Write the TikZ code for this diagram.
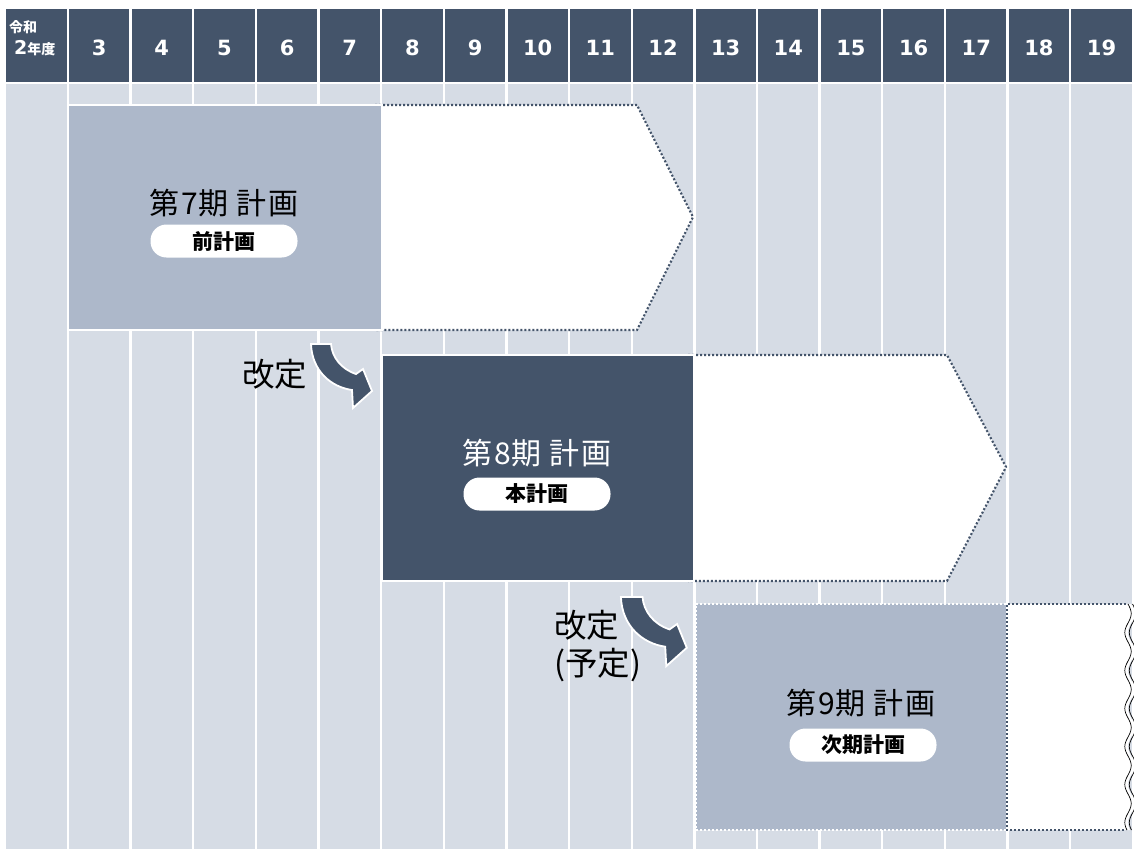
\documentclass[tikz,border=0pt]{standalone}
\usepackage{fontspec}
\setmainfont{DejaVu Sans}
\newfontfamily\jp{Noto Sans CJK JP}
\newfontfamily\jpt[LetterSpace=4]{Noto Sans CJK JP}
\definecolor{hdr}{HTML}{44546A}
\definecolor{bodyc}{HTML}{D6DCE5}
\definecolor{boxc}{HTML}{ADB8CA}
\begin{document}
\begin{tikzpicture}[x=1pt,y=-1pt,
  hdrnum/.style={text=white, font=\bfseries\fontsize{21}{21}\selectfont, inner sep=0pt},
  title/.style={font=\jpt\fontsize{30}{30}\selectfont, inner sep=0pt},
  pill/.style={fill=white, rounded corners=16pt, minimum width=147pt, minimum height=33pt, inner sep=0pt, font=\jp\bfseries\fontsize{21}{21}\selectfont},
  note/.style={font=\jp\fontsize{32.5}{38}\selectfont, inner sep=0pt, align=left, anchor=west},
  dotb/.style={draw=hdr, line width=2.1pt, dash pattern=on 2pt off 2pt},
  dotw/.style={draw=white, line width=2.1pt, dash pattern=on 2pt off 2pt},
  planbox/.style={draw=white, line width=2pt, anchor=north west, inner sep=0pt},
  curvarrow/.pic={\filldraw[fill=hdr, draw=white, line width=1.8pt, line join=miter]
     (-1,0) -- (19,0) .. controls (20,13) and (29,25) .. (44,30) -- (51,25) -- (60,47)
     -- (41,64) -- (40,46) .. controls (19,43) and (0,27) .. (-1,0) -- cycle;}
]
\useasboundingbox (0,0) rectangle (1134,849);
\fill[white] (0,0) rectangle (1134,849);
% header and body columns
\fill[hdr] (6,9) rectangle (66.7,82);
\fill[bodyc] (6,84) rectangle (66.7,849);
\node[text=white, inner sep=0pt, anchor=west, font=\jp\bfseries\fontsize{14}{14}\selectfont] (hy1) at (9,27) {令和};
\node[text=white, inner sep=0pt, anchor=base west] (hy2) at (14,54) {{\bfseries\fontsize{19}{19}\selectfont 2}{\jp\bfseries\fontsize{14}{14}\selectfont 年度}};
\foreach \k in {1,...,17}{
  \pgfmathsetmacro{\xl}{69+62.65*(\k-1)}
  \pgfmathtruncatemacro{\yr}{\k+2}
  \fill[hdr] (\xl,9) rectangle ++(60.3,73);
  \fill[bodyc] (\xl,84) rectangle ++(60.3,765);
  \node[hdrnum] (h\yr) at (\xl+30.15,47.5) {\yr};
}
% plan 7
\filldraw[fill=white, dotb] (375,105) -- (637,105) -- (693,217) -- (637,330) -- (375,330);
\node[planbox, fill=boxc, minimum width=314pt, minimum height=225pt] (p7) at (67,104) {};
\node[title] (t7) at (224,203) {第7期 計画};
\node[pill] (l7) at (224,241) {前計画};
% plan 8
\filldraw[fill=white, dotb] (688,355) -- (947,355) -- (1006,467) -- (947,581) -- (688,581);
\node[planbox, fill=hdr, minimum width=312pt, minimum height=226pt] (p8) at (381,354) {};
\node[title, text=white] (t8) at (537,453) {第8期 計画};
\node[pill] (l8) at (537,494) {本計画};
% plan 9
\fill[white] (1007,604) -- (1128,604) -- plot[domain=604:830, samples=120, smooth] ({1131+3*sin((\x-604)*9.4737)},\x) -- (1007,830) -- cycle;
\draw[dotb] (1126,604) -- (1007,604) -- (1007,830) -- (1126,830);
\draw[black, line width=0.7pt] plot[domain=604:830, samples=120, smooth] ({1128+3.2*sin((\x-604)*9.4737)},\x);
\draw[black, line width=0.7pt] plot[domain=604:830, samples=120, smooth] ({1132.5+3.2*sin((\x-604)*9.4737)},\x);
\fill[boxc] (696,604) rectangle (1006,830);
\draw[dotw] (1006,604) -- (696,604) -- (696,830) -- (1006,830);
\node[inner sep=0pt, minimum width=310pt, minimum height=226pt, anchor=north west] (p9) at (696,604) {};
\node[title] (t9) at (861,703) {第9期 計画};
\node[pill] (l9) at (863,745) {次期計画};
% revision notes and arrows
\node[note] (n1) at (242,374) {改定};
\pic at (312,344) {curvarrow};
\node[note] (n2) at (554,646) {改定\\(予定)};
\pic[scale=1.08] at (622,597) {curvarrow};
\end{tikzpicture}
\end{document}
